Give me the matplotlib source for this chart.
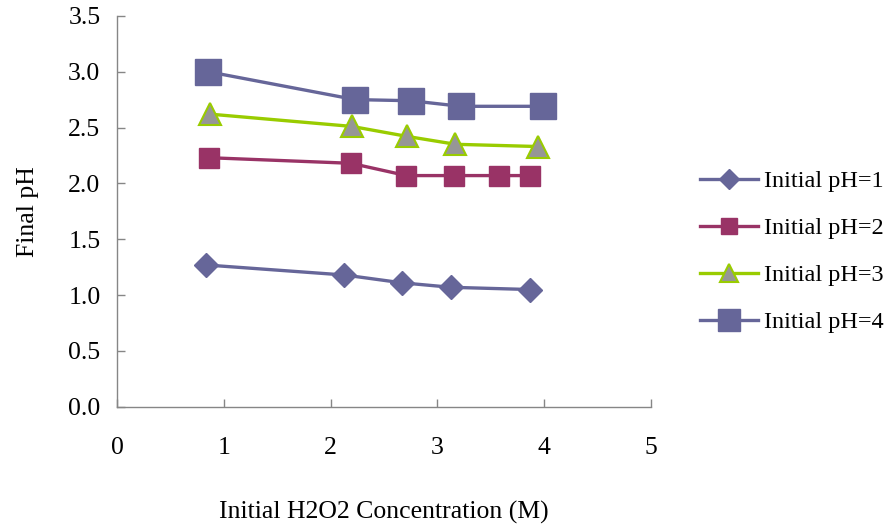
import matplotlib
matplotlib.use("Agg")
import matplotlib.pyplot as plt

plt.rcParams["font.family"] = ["Liberation Serif", "DejaVu Serif"]

# Data
x_ph1 = [0.83, 2.13, 2.67, 3.13, 3.87]
y_ph1 = [1.27, 1.18, 1.11, 1.07, 1.05]

x_ph2 = [0.86, 2.19, 2.71, 3.16, 3.58, 3.87]
y_ph2 = [2.23, 2.18, 2.07, 2.07, 2.07, 2.07]

x_ph3 = [0.87, 2.20, 2.72, 3.17, 3.94]
y_ph3 = [2.62, 2.51, 2.42, 2.35, 2.33]

x_ph4 = [0.85, 2.23, 2.75, 3.22, 3.99]
y_ph4 = [3.00, 2.75, 2.74, 2.69, 2.69]

labels = ["Initial pH=1", "Initial pH=2", "Initial pH=3", "Initial pH=4"]

BLUE = "#666699"
PLUM = "#993366"
GREEN = "#99CC00"
GREY = "#969696"
AXIS = "#868686"
FS = 18.5

fig = plt.figure(figsize=(8.94, 5.27), dpi=100)
ax = fig.add_axes([0.131, 0.228, 0.597, 0.742])

ax.plot(x_ph1, y_ph1, color=BLUE, lw=2.4, marker="D", ms=12.5,
        mfc=BLUE, mec=BLUE, label=labels[0])
ax.plot(x_ph2, y_ph2, color=PLUM, lw=2.4, marker="s", ms=14,
        mfc=PLUM, mec=PLUM, label=labels[1])
ax.plot(x_ph3, y_ph3, color=GREEN, lw=2.4, marker="^", ms=16,
        mfc=GREY, mec=GREEN, mew=1.5, label=labels[2])
ax.plot(x_ph4, y_ph4, color=BLUE, lw=2.4, marker="s", ms=19,
        mfc=BLUE, mec=BLUE, label=labels[3])

ax.set_xlim(0, 5)
ax.set_ylim(0, 3.5)
ax.set_xticks(range(0, 6))
ax.set_yticks([i * 0.5 for i in range(8)])
ax.set_yticklabels([f"{i * 0.5:.1f}" for i in range(8)])

for side in ("top", "right"):
    ax.spines[side].set_visible(False)
for side in ("left", "bottom"):
    ax.spines[side].set_color(AXIS)
    ax.spines[side].set_linewidth(1.0)

ax.tick_params(axis="both", direction="in", length=6, width=1.0,
               color=AXIS, labelsize=FS, labelcolor="black")
ax.tick_params(axis="x", pad=22)
ax.tick_params(axis="y", pad=12)

ax.set_ylabel("Final pH", fontsize=FS, labelpad=21)
ax.set_xlabel("Initial H2O2 Concentration (M)", fontsize=FS, labelpad=30)

fig.legend(loc="center left", bbox_to_anchor=(0.783, 0.522), frameon=False,
           fontsize=17.5, handlelength=2.4, labelspacing=1.03,
           handletextpad=0.25, borderpad=0, borderaxespad=0,
           markerscale=0.85)

fig.savefig("out.png", dpi=100, facecolor="white")
